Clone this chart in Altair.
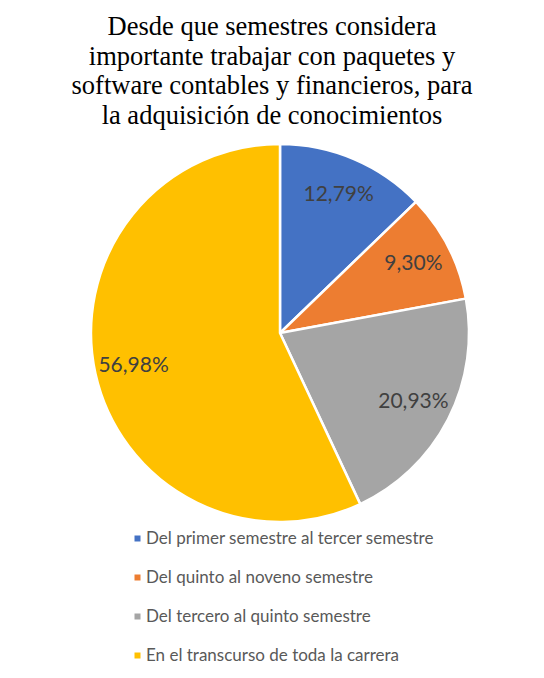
import altair as alt
import pandas as pd

categories = [
    "Del primer semestre al tercer semestre",
    "Del quinto al noveno semestre",
    "Del tercero al quinto semestre",
    "En el transcurso de toda la carrera",
]
values = [12.79, 9.30, 20.93, 56.98]
colors = ["#4472C4", "#ED7D31", "#A5A5A5", "#FFC000"]
labels = [f"{v:.2f}".replace(".", ",") + "%" for v in values]

title_lines = [
    "Desde que semestres considera",
    "importante trabajar con paquetes y",
    "software contables y financieros, para",
    "la adquisición de conocimientos",
]

df = pd.DataFrame({"cat": categories, "val": values, "label": labels, "ord": list(range(len(values)))})

CX = 272
CY = 200
R = 189

base = alt.Chart(df).encode(
    theta=alt.Theta("val:Q", stack=True),
    order=alt.Order("ord:Q"),
)

arcs = base.mark_arc(outerRadius=R, stroke="white", strokeWidth=2.5).encode(
    color=alt.Color(
        "cat:N",
        scale=alt.Scale(domain=categories, range=colors),
        sort=categories,
        legend=alt.Legend(
            title=None,
            orient="none",
            legendX=117,
            legendY=397,
            direction="vertical",
            symbolType="square",
            symbolSize=36,
            symbolStrokeWidth=0,
            symbolOffset=4,
            labelFont="Lato",
            labelFontSize=17,
            labelColor="#595959",
            labelOffset=0,
            rowPadding=21,
            labelLimit=500,
        ),
    ),
    x=alt.value(CX),
    y=alt.value(CY),
)

text = base.mark_text(radius=150, font="Lato", fontSize=21, color="#404040").encode(
    text="label:N",
    x=alt.value(CX),
    y=alt.value(CY),
)

chart = (
    alt.layer(arcs, text)
    .properties(
        width=528,
        height=530,
        padding={"top": 6, "left": 0, "right": 0, "bottom": 0},
        title=alt.TitleParams(
            text=title_lines,
            font="Liberation Serif",
            fontSize=26.5,
            fontWeight="normal",
            color="#000000",
            lineHeight=29.5,
            anchor="middle",
            offset=4,
        ),
    )
    .configure_view(strokeWidth=0)
)

chart.save("out.html", embed_options={"renderer": "svg", "actions": False})
